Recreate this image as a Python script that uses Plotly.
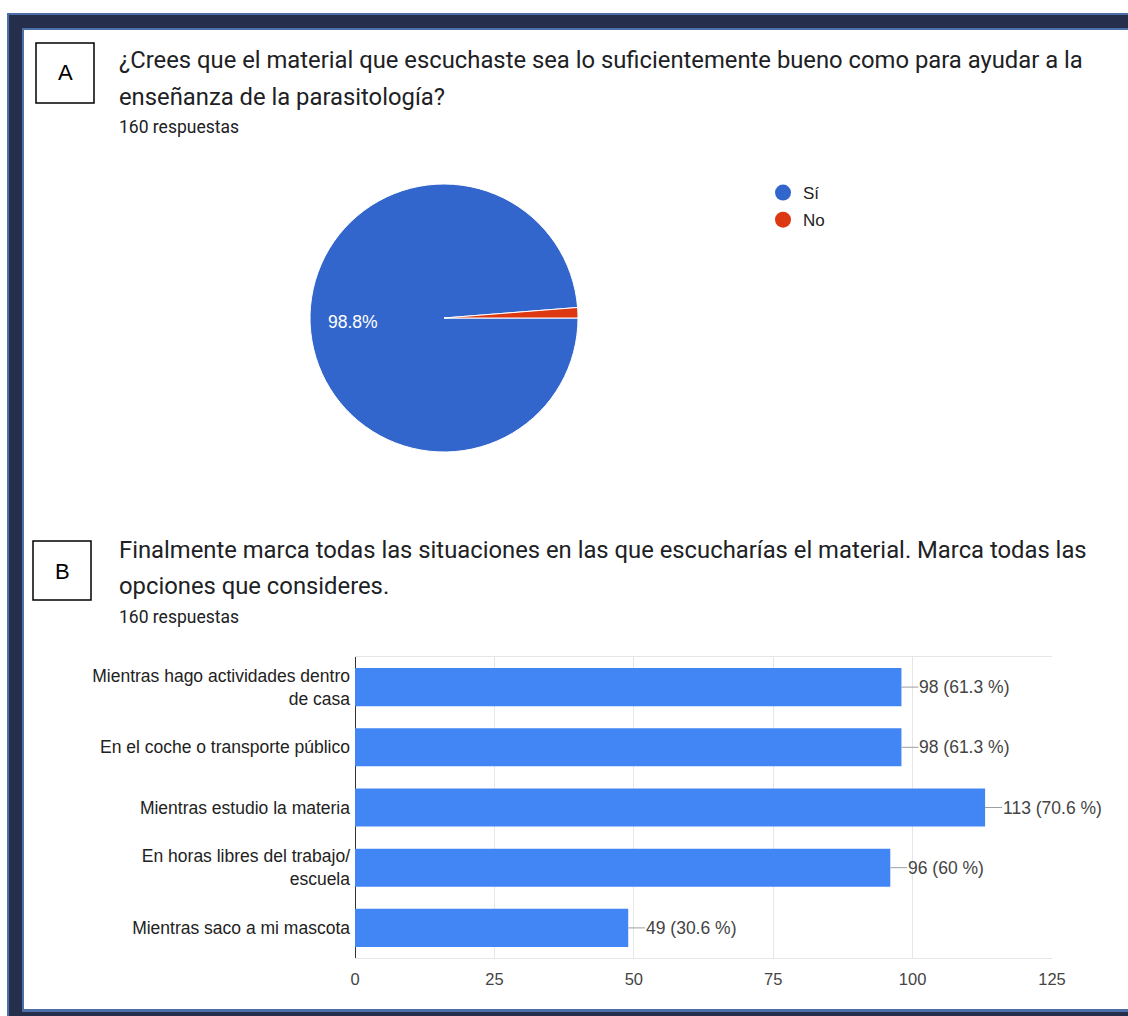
import plotly.graph_objects as go

W, H = 1128, 1016

# ---------------- data ----------------
pie_labels = ["Sí", "No"]
pie_values = [158, 2]
pie_colors = ["#3366cc", "#dc3912"]

bar_categories = [
    "Mientras hago actividades dentro<br>de casa",
    "En el coche o transporte público",
    "Mientras estudio la materia",
    "En horas libres del trabajo/<br>escuela",
    "Mientras saco a mi mascota",
]
bar_values = [98, 98, 113, 96, 49]
bar_percents = ["61.3", "61.3", "70.6", "60", "30.6"]
x_ticks = [0, 25, 50, 75, 100, 125]

title_a = ["¿Crees que el material que escuchaste sea lo suficientemente bueno como para ayudar a la",
           "enseñanza de la parasitología?"]
title_b = ["Finalmente marca todas las situaciones en las que escucharías el material. Marca todas las",
           "opciones que consideres."]
n_resp = "160 respuestas"


def px(x):
    return x / W


def py(y):
    return 1 - y / H


fig = go.Figure()

# bars
fig.add_trace(go.Bar(
    x=bar_values, y=bar_categories, orientation="h",
    marker=dict(color="#4285f4", line=dict(width=0)),
    showlegend=False, hoverinfo="x+y",
))

# pie
fig.add_trace(go.Pie(
    labels=pie_labels, values=pie_values, sort=False, direction="clockwise", rotation=90,
    marker=dict(colors=pie_colors, line=dict(color="white", width=1)),
    textinfo="none",
    showlegend=False, hoverinfo="label+percent",
    domain=dict(x=[px(310), px(578)], y=[py(452), py(184)]),
))

# legend markers (circles) for pie
for lab, col, grp in zip(pie_labels, pie_colors, ["g1", "g2"]):
    fig.add_trace(go.Scatter(
        x=[None], y=[None], mode="markers", name=lab, legendgroup=grp,
        marker=dict(color=col, size=16, symbol="circle"), showlegend=True,
        xaxis="x", yaxis="y",
    ))

for v, c, p in zip(bar_values, bar_categories, bar_percents):
    fig.add_annotation(
        x=v, y=c, xref="x", yref="y", text=f"{v} ({p} %)",
        showarrow=True, arrowhead=0, arrowwidth=1, arrowcolor="#9e9e9e",
        ax=17, ay=0, xanchor="left", yanchor="middle", borderpad=0, standoff=0,
        font=dict(family="Liberation Sans", size=17.5, color="#444444"),
    )

shapes = []
# frame
shapes.append(dict(type="rect", xref="paper", yref="paper", x0=px(7), x1=1.0, y0=0.0, y1=py(13),
                   fillcolor="#4d6fa8", line=dict(width=0), layer="below"))
shapes.append(dict(type="rect", xref="paper", yref="paper", x0=px(9), x1=1.0, y0=0.0, y1=py(15),
                   fillcolor="#252e4a", line=dict(width=0), layer="below"))
shapes.append(dict(type="rect", xref="paper", yref="paper", x0=px(22), x1=1.0, y0=py(1012), y1=py(28),
                   fillcolor="#4d6fa8", line=dict(width=0), layer="below"))
shapes.append(dict(type="rect", xref="paper", yref="paper", x0=px(24), x1=1.0, y0=py(1009), y1=py(30),
                   fillcolor="white", line=dict(width=0), layer="below"))
# letter boxes
shapes.append(dict(type="rect", xref="paper", yref="paper", x0=px(36), x1=px(94), y0=py(103), y1=py(43),
                   fillcolor="white", line=dict(width=1.5, color="black"), layer="above"))
shapes.append(dict(type="rect", xref="paper", yref="paper", x0=px(33), x1=px(91), y0=py(600), y1=py(541),
                   fillcolor="white", line=dict(width=1.5, color="black"), layer="above"))

ann = []
# pie percentage label for the large slice
si_pct = 100.0 * pie_values[0] / sum(pie_values)
ann.append(dict(x=px(353), y=py(322), text=f"{si_pct:.1f}%", showarrow=False, xanchor="center", yanchor="middle",
                font=dict(family="Liberation Sans", size=17.5, color="white")))
ann.append(dict(x=px(65), y=py(73), text="A", showarrow=False, xanchor="center", yanchor="middle",
                font=dict(family="Liberation Sans", size=22, color="black")))
ann.append(dict(x=px(62), y=py(571), text="B", showarrow=False, xanchor="center", yanchor="middle",
                font=dict(family="Liberation Sans", size=22, color="black")))
title_font = dict(family="Roboto", size=23.8, color="#202124")
sub_font = dict(family="Roboto", size=17.5, color="#202124")
for txt, yy in zip(title_a, [60, 97]):
    ann.append(dict(x=px(117), y=py(yy), text=txt, showarrow=False, xanchor="left", yanchor="middle", font=title_font))
ann.append(dict(x=px(117), y=py(127), text=n_resp, showarrow=False, xanchor="left", yanchor="middle", font=sub_font))
for txt, yy in zip(title_b, [550, 586]):
    ann.append(dict(x=px(117), y=py(yy), text=txt, showarrow=False, xanchor="left", yanchor="middle", font=title_font))
ann.append(dict(x=px(117), y=py(617), text=n_resp, showarrow=False, xanchor="left", yanchor="middle", font=sub_font))
for a in ann:
    a["xref"] = "paper"
    a["yref"] = "paper"
    fig.add_annotation(**a)

fig.update_layout(
    width=W, height=H, margin=dict(l=0, r=0, t=0, b=0),
    paper_bgcolor="white", plot_bgcolor="white",
    shapes=shapes,
    bargap=0.367,
    legend=dict(x=px(763), y=py(175), xanchor="left", yanchor="top", bgcolor="rgba(0,0,0,0)",
                font=dict(family="Liberation Sans", size=17, color="#222222"),
                traceorder="grouped", tracegroupgap=2, itemsizing="trace"),
    xaxis=dict(type="linear", domain=[px(355), px(1052)], range=[0, 125], tickvals=x_ticks, showgrid=True,
               gridcolor="#e6e6e6", gridwidth=1, zeroline=True, zerolinecolor="#333333", zerolinewidth=1,
               showline=True, mirror=True, linecolor="#e6e6e6", linewidth=1, ticks="", ticklabelstandoff=6,
               tickfont=dict(family="Liberation Sans", size=16.5, color="#444444"), fixedrange=True,
               automargin=False),
    yaxis=dict(type="category", categoryorder="array", categoryarray=bar_categories,
               domain=[py(958), py(657)], autorange="reversed", showgrid=False, zeroline=False,
               ticks="", ticklabelstandoff=4, automargin=False,
               tickfont=dict(family="Liberation Sans", size=17.5, color="#222222"), fixedrange=True),
    font=dict(family="Liberation Sans"),
)

fig.write_html("out.html")
